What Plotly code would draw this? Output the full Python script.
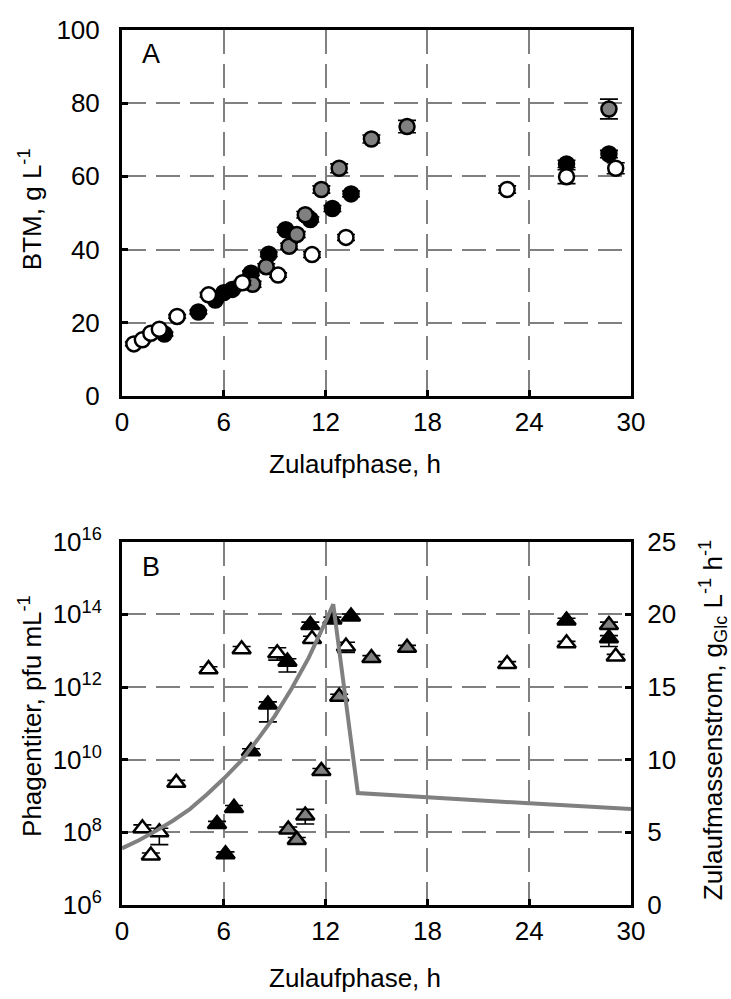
import plotly.graph_objects as go
import numpy as np

# ---------------- data ----------------
x_ticks = [0, 6, 12, 18, 24, 30]

# Panel A: biomass (BTM, g/L)
a_black_t = [2.5, 4.5, 5.5, 6.0, 6.5, 7.6, 8.65, 9.65, 11.1, 12.4, 13.5, 26.2, 28.7]
a_black_y = [16.9, 22.9, 26.2, 28.2, 29.1, 33.5, 38.7, 45.4, 48.2, 51.2, 55.2, 63.4, 66.1]
a_black_e = [0.5, 0.5, 0.5, 0.5, 0.5, 0.6, 0.6, 0.7, 0.7, 0.8, 0.8, 1.0, 1.0]

a_gray_t = [7.7, 8.5, 9.85, 10.3, 10.8, 11.75, 12.8, 14.7, 16.8, 28.7]
a_gray_y = [30.5, 35.3, 40.9, 44.1, 49.5, 56.4, 62.2, 70.2, 73.6, 78.4]
a_gray_e = [0.8, 0.8, 0.8, 0.8, 0.9, 1.0, 1.2, 1.1, 1.7, 2.7]

a_white_t = [0.7, 1.2, 1.7, 2.2, 3.25, 5.1, 7.1, 9.2, 11.2, 13.2, 22.7, 26.2, 29.1]
a_white_y = [14.2, 15.3, 17.1, 18.2, 21.7, 27.6, 30.9, 33.0, 38.6, 43.3, 56.4, 59.9, 62.2]
a_white_e = [0.5, 0.5, 0.5, 0.5, 0.5, 0.6, 0.6, 0.6, 0.8, 0.8, 1.0, 1.9, 1.5]

# Panel B: phage titer (pfu/mL)
b_black_t = [5.6, 6.1, 6.6, 7.6, 8.6, 9.75, 11.1, 12.4, 13.5, 26.2, 28.7]
b_black_y = [1.7e8, 2.5e7, 4.7e8, 1.7e10, 3.3e11, 5.0e12, 5.1e13, 7.2e13, 8.7e13, 6.8e13, 2.2e13]
b_black_up = [0.3e8, 0.4e7, 0.8e8, 0.3e10, 0.6e11, 1.0e12, 1.0e13, 1.2e13, 1.5e13, 1.0e13, 0.4e13]
b_black_dn = [0.3e8, 0.4e7, 0.8e8, 0.3e10, 2.2e11, 2.4e12, 1.0e13, 1.2e13, 1.5e13, 1.0e13, 0.9e13]

b_gray_t = [9.8, 10.3, 10.8, 11.75, 12.8, 14.7, 16.8, 28.7]
b_gray_y = [1.2e8, 6.2e7, 2.9e8, 4.9e9, 5.4e11, 6.3e12, 1.2e13, 5.1e13]
b_gray_up = [0.2e8, 1.0e7, 1.4e8, 0.8e9, 0.9e11, 1.0e12, 0.2e13, 1.0e13]
b_gray_dn = [0.2e8, 1.0e7, 1.2e8, 0.8e9, 0.9e11, 1.0e12, 0.2e13, 1.0e13]

b_white_t = [1.2, 1.7, 2.2, 3.2, 5.1, 7.05, 9.15, 11.2, 13.2, 22.7, 26.2, 29.1]
b_white_y = [1.3e8, 2.3e7, 1.0e8, 2.3e9, 3.1e12, 1.1e13, 8.5e12, 2.1e13, 1.3e13, 4.3e12, 1.6e13, 6.9e12]
b_white_up = [0.3e8, 0.4e7, 0.3e8, 0.4e9, 0.5e12, 0.2e13, 3.5e12, 0.4e13, 0.4e13, 0.7e12, 0.2e13, 1.0e12]
b_white_dn = [0.3e8, 0.4e7, 0.54e8, 0.4e9, 0.5e12, 0.2e13, 3.0e12, 0.4e13, 0.4e13, 0.7e12, 0.2e13, 1.0e12]

# Feed rate (g_Glc / L / h), right axis of panel B
feed_t = [0, 1, 2, 3, 4, 5, 6, 7, 8, 9, 10, 11, 12, 12.45, 13.9, 18, 24, 30]
feed_v = [3.9, 4.45, 5.1, 5.8, 6.6, 7.6, 8.7, 9.9, 11.4, 13.0, 14.9, 17.0, 19.5, 20.7, 7.7, 7.4, 7.0, 6.6]

b_tickvals = [1e6, 1e8, 1e10, 1e12, 1e14, 1e16]
b_ticktext = ["10<sup>6</sup>", "10<sup>8</sup>", "10<sup>10</sup>", "10<sup>12</sup>",
              "10<sup>14</sup>", "10<sup>16</sup>"]

# ---------------- styling ----------------
FONT = "Liberation Sans, Arial, sans-serif"
FS = 26
GRID = "#808080"
DASH = "24px,10px"

def ebar(e, em=None):
    d = dict(type="data", array=e, color="black", thickness=1.6, width=9, visible=True)
    if em is not None:
        d["symmetric"] = False
        d["arrayminus"] = em
    return d

fig = go.Figure()

# Panel A traces
for t, y, e, fill in [(a_black_t, a_black_y, a_black_e, "black"),
                      (a_gray_t, a_gray_y, a_gray_e, "#808080"),
                      (a_white_t, a_white_y, a_white_e, "white")]:
    fig.add_trace(go.Scatter(
        x=t, y=y, mode="markers", xaxis="x", yaxis="y",
        error_y=ebar(e),
        marker=dict(symbol="circle", size=15, color=fill, line=dict(color="black", width=2.5)),
        showlegend=False, cliponaxis=False))

# Panel B feed line (right axis)
fig.add_trace(go.Scatter(
    x=feed_t, y=feed_v, mode="lines", xaxis="x2", yaxis="y3",
    line=dict(color="#808080", width=4), showlegend=False))

# Panel B traces
for t, y, up, dn, fill in [(b_black_t, b_black_y, b_black_up, b_black_dn, "black"),
                           (b_gray_t, b_gray_y, b_gray_up, b_gray_dn, "#808080"),
                           (b_white_t, b_white_y, b_white_up, b_white_dn, "white")]:
    fig.add_trace(go.Scatter(
        x=t, y=y, mode="markers", xaxis="x2", yaxis="y2",
        error_y=ebar(up, dn),
        marker=dict(symbol="triangle-up", size=16, color=fill, line=dict(color="black", width=2.5)),
        showlegend=False, cliponaxis=False))

axis_common = dict(
    showline=True, linecolor="black", linewidth=3,
    ticks="inside", ticklen=6, tickwidth=2.5, tickcolor="black",
    showgrid=True, gridcolor=GRID, gridwidth=1.5, griddash=DASH,
    zeroline=False, tickfont=dict(family=FONT, size=FS, color="black"),
)

dom_A = [0.5819, 1.0]
dom_B = [0.0, 0.4152]

fig.update_layout(
    width=731, height=999,
    margin=dict(l=122, r=100, t=25, b=94),
    paper_bgcolor="white", plot_bgcolor="white",
    font=dict(family=FONT, size=FS, color="black"),
    xaxis=dict(axis_common, domain=[0, 1], anchor="y", range=[0, 30], tickvals=x_ticks,
               mirror=True, ticklabelstandoff=1),
    yaxis=dict(axis_common, domain=dom_A, anchor="x", range=[0, 100], tickvals=[0, 20, 40, 60, 80, 100],
               mirror=True, ticklabelstandoff=14),
    xaxis2=dict(axis_common, domain=[0, 1], anchor="y2", range=[0, 30], tickvals=x_ticks,
                mirror=True, ticklabelstandoff=1),
    yaxis2=dict(axis_common, domain=dom_B, anchor="x2", type="log", range=[6, 16],
                tickvals=b_tickvals, ticktext=b_ticktext, ticklabelstandoff=12),
    yaxis3=dict(axis_common, domain=dom_B, anchor="x2", overlaying="y2", side="right",
                range=[0, 25], tickvals=[0, 5, 10, 15, 20, 25], showgrid=False,
                ticklabelstandoff=8),
)

ann = [
    dict(text="A", xref="x domain", yref="y domain", x=0.035, y=0.935, xanchor="left", yanchor="middle",
         showarrow=False, font=dict(size=27)),
    dict(text="B", xref="x2 domain", yref="y2 domain", x=0.035, y=0.93, xanchor="left", yanchor="middle",
         showarrow=False, font=dict(size=27)),
    dict(text="Zulaufphase, h", xref="x domain", yref="y domain", x=0.458, y=-0.1875,
         xanchor="center", yanchor="middle", showarrow=False),
    dict(text="Zulaufphase, h", xref="x2 domain", yref="y2 domain", x=0.458, y=-0.201,
         xanchor="center", yanchor="middle", showarrow=False),
    dict(text="BTM, g L<sup>-1</sup>", xref="x domain", yref="y domain", x=-0.181, y=0.51,
         xanchor="center", yanchor="middle", textangle=-90, showarrow=False),
    dict(text="Phagentiter, pfu mL<sup>-1</sup>", xref="x2 domain", yref="y2 domain", x=-0.181, y=0.52,
         xanchor="center", yanchor="middle", textangle=-90, showarrow=False),
    dict(text="Zulaufmassenstrom, g<sub>Glc</sub> L<sup>-1</sup> h<sup>-1</sup>", xref="x2 domain",
         yref="y2 domain", x=1.16, y=0.51, xanchor="center", yanchor="middle", textangle=-90,
         showarrow=False),
]
fig.update_layout(annotations=ann)

fig.write_html("out.html")
